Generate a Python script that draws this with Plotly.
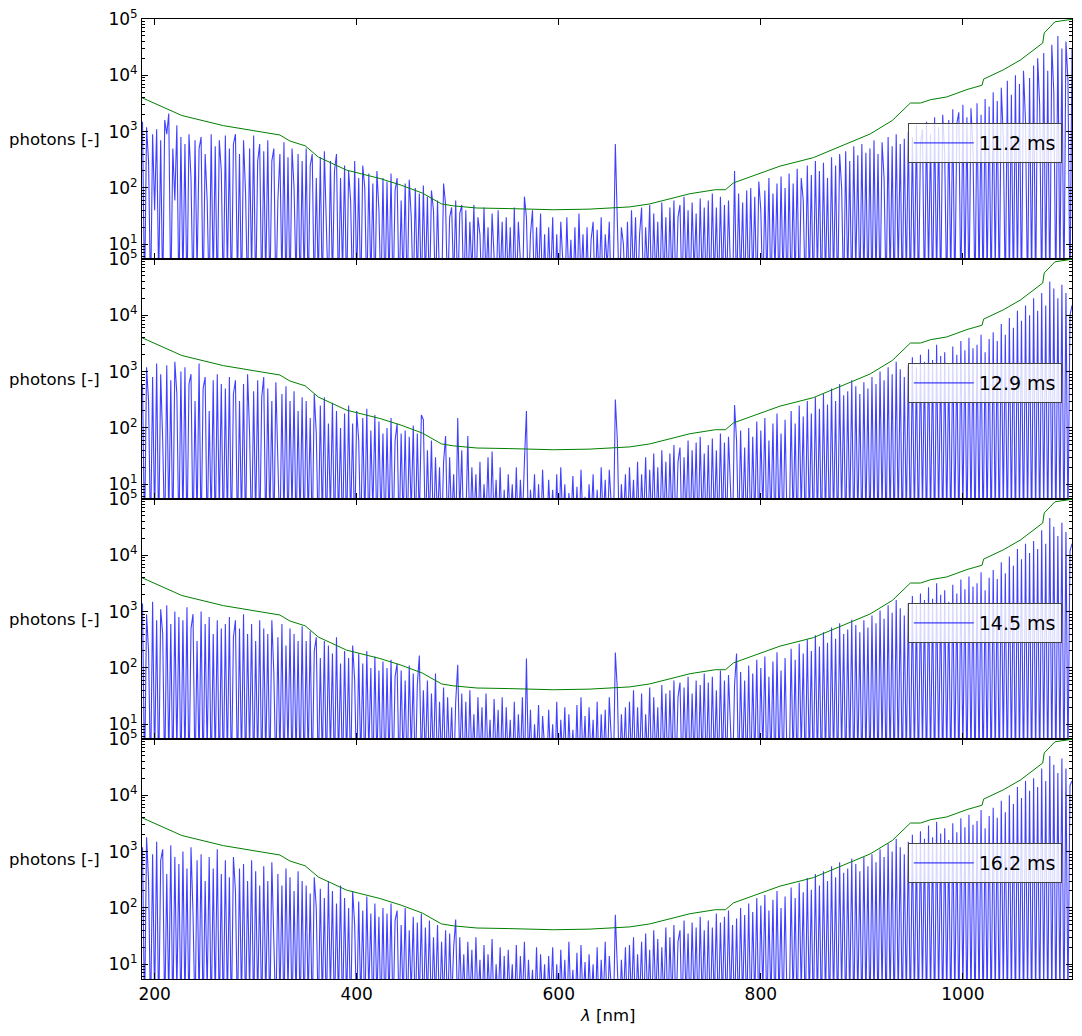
import plotly.graph_objects as go
from plotly.subplots import make_subplots

# ---------------- data ----------------
# wavelength grid: rows of 20 samples, 2 nm apart, each row starting at 188 + 40*r nm
LAMBDA_START = 188
LAMBDA_STEP = 2

exposure_labels = ["11.2 ms", "12.9 ms", "14.5 ms", "16.2 ms"]

photons_11_2 = [
    [1500, 1, 1200, 300, 1, 900, 40, 1100, 2, 700, 1, 1600, 900, 2100, 1, 500, 60, 1300, 1, 800],
    [2, 600, 1, 900, 150, 1, 700, 3, 500, 800, 1, 400, 60, 1, 900, 2, 550, 1, 700, 200],
    [1, 850, 3, 500, 1, 600, 900, 2, 400, 1, 700, 80, 1, 500, 3, 850, 1, 300, 600, 1],
    [450, 2, 700, 1, 300, 500, 1, 60, 400, 2, 650, 1, 350, 1, 500, 100, 2, 400, 1, 300],
    [2, 500, 1, 250, 400, 1, 150, 2, 350, 1, 450, 30, 1, 300, 2, 200, 400, 1, 150, 3],
    [250, 1, 200, 60, 1, 300, 2, 150, 1, 250, 100, 1, 180, 2, 120, 1, 200, 40, 1, 150],
    [1, 130, 2, 180, 1, 90, 150, 1, 60, 2, 120, 1, 140, 30, 1, 100, 2, 80, 1, 110],
    [2, 70, 1, 90, 40, 1, 60, 2, 1, 120, 50, 1, 30, 45, 2, 60, 1, 35, 50, 1],
    [40, 1, 25, 3, 50, 1, 30, 15, 1, 45, 2, 20, 1, 35, 8, 1, 40, 2, 25, 1],
    [30, 2, 20, 1, 45, 1, 25, 3, 1, 70, 30, 1, 15, 40, 1, 20, 2, 35, 1, 15],
    [1, 20, 2, 30, 1, 15, 1, 25, 8, 1, 30, 2, 12, 1, 20, 1, 35, 2, 15, 1],
    [20, 1, 12, 25, 1, 18, 2, 30, 1, 15, 4, 25, 1, 3, 600, 2, 1, 20, 10, 1],
    [25, 1, 40, 2, 30, 1, 15, 45, 1, 20, 3, 50, 1, 35, 2, 25, 1, 55, 2, 30],
    [1, 45, 2, 60, 1, 30, 50, 1, 70, 2, 40, 1, 55, 3, 35, 1, 65, 2, 45, 1],
    [60, 1, 80, 2, 45, 1, 70, 2, 50, 1, 60, 3, 1, 200, 1, 80, 2, 55, 1, 90],
    [1, 100, 2, 70, 1, 130, 40, 1, 90, 2, 150, 1, 80, 3, 120, 1, 160, 2, 100, 1],
    [180, 1, 120, 2, 220, 1, 150, 60, 1, 250, 2, 170, 1, 300, 3, 200, 1, 280, 2, 150],
    [1, 350, 2, 250, 1, 400, 100, 1, 450, 2, 300, 1, 550, 3, 380, 1, 600, 2, 420, 1],
    [500, 1, 700, 2, 400, 1, 650, 150, 1, 800, 2, 550, 1, 900, 3, 600, 1, 750, 2, 1000],
    [1, 800, 2, 1300, 1, 600, 1100, 1, 1500, 3, 900, 1, 1800, 2, 1200, 1, 2000, 400, 1, 1600],
    [2, 2500, 1, 1400, 2200, 1, 3000, 2, 1800, 1, 2600, 500, 1, 3200, 2, 2000, 1, 3800, 2, 2800],
    [1, 5000, 3, 3500, 1, 6000, 800, 1, 8000, 2, 4500, 1, 10000, 2, 7000, 1, 12000, 1500, 1, 9000],
    [2, 15000, 1, 20000, 3000, 1, 25000, 2, 12000, 1, 35000, 5000, 1, 50000, 2, 30000, 1, 40000, 8000, 1],
    [30000],
]

photons_12_9 = [
    [600, 1, 1200, 300, 1, 800, 2, 1400, 1, 900, 60, 1, 1300, 2, 700, 1, 1500, 400, 1, 1000],
    [2, 1200, 1, 600, 900, 1, 300, 2, 1400, 1, 500, 800, 1, 200, 2, 700, 1, 900, 3, 600],
    [1, 500, 2, 800, 1, 400, 700, 1, 300, 2, 600, 1, 900, 80, 1, 450, 2, 700, 1, 350],
    [800, 1, 500, 2, 300, 1, 650, 40, 1, 400, 2, 550, 1, 300, 3, 450, 1, 200, 2, 350],
    [1, 300, 2, 150, 1, 400, 80, 1, 250, 2, 350, 1, 120, 3, 280, 1, 200, 2, 100, 1],
    [180, 1, 250, 2, 120, 1, 200, 60, 1, 150, 2, 220, 1, 90, 3, 170, 1, 130, 2, 80],
    [1, 100, 2, 150, 1, 60, 120, 1, 80, 2, 90, 1, 70, 3, 110, 1, 80, 2, 170, 140],
    [1, 40, 2, 60, 1, 30, 2, 20, 1, 25, 72, 1, 30, 2, 15, 1, 150, 3, 40, 1],
    [2, 72, 1, 20, 2, 15, 1, 25, 1, 10, 2, 30, 1, 38, 2, 12, 1, 20, 1, 8],
    [1, 15, 2, 10, 1, 20, 1, 12, 2, 25, 200, 1, 8, 2, 15, 1, 10, 1, 18, 2],
    [1, 12, 2, 8, 1, 15, 1, 20, 2, 10, 1, 7, 2, 14, 1, 9, 1, 18, 2, 6],
    [1, 10, 2, 15, 1, 8, 1, 20, 2, 12, 1, 18, 2, 1, 320, 60, 1, 10, 2, 15],
    [1, 20, 2, 12, 1, 25, 1, 15, 2, 30, 1, 18, 2, 35, 1, 20, 1, 40, 2, 25],
    [1, 35, 2, 50, 1, 25, 45, 1, 30, 2, 60, 1, 40, 2, 55, 1, 70, 2, 35, 1],
    [50, 1, 65, 2, 40, 1, 80, 2, 55, 1, 70, 2, 1, 255, 60, 1, 90, 2, 45, 1],
    [100, 1, 70, 2, 130, 1, 90, 3, 150, 1, 60, 2, 120, 1, 180, 2, 80, 1, 140, 2],
    [1, 200, 2, 120, 1, 250, 3, 160, 1, 300, 2, 180, 1, 350, 2, 220, 1, 400, 2, 260],
    [1, 500, 2, 300, 1, 600, 3, 380, 1, 450, 2, 700, 1, 550, 2, 400, 1, 650, 2, 500],
    [1, 800, 2, 600, 1, 1000, 3, 700, 1, 1200, 2, 900, 1, 1500, 2, 1100, 1, 800, 2, 1300],
    [1, 1800, 2, 1200, 1, 2000, 3, 1500, 1, 2500, 2, 1600, 1, 3000, 2, 1900, 1, 2200, 2, 1400],
    [1, 2800, 2, 2000, 1, 3500, 3, 2400, 1, 4000, 2, 2600, 1, 3000, 2, 4500, 1, 2200, 2, 3800],
    [1, 5000, 2, 3500, 1, 7000, 3, 4500, 1, 9000, 2, 6000, 1, 12000, 2, 8000, 1, 15000, 2, 10000],
    [1, 20000, 2, 12000, 1, 25000, 3, 15000, 1, 40000, 2, 30000, 1, 20000, 2, 35000, 1, 25000, 2, 10000],
    [15000],
]

photons_14_5 = [
    [1400, 1, 900, 200, 1, 1500, 2, 700, 1, 1100, 400, 1, 1300, 2, 600, 1, 1000, 3, 800, 1],
    [700, 2, 1200, 1, 500, 900, 1, 300, 2, 1000, 1, 600, 3, 800, 1, 400, 2, 700, 1, 500],
    [1, 600, 2, 800, 1, 350, 700, 1, 500, 2, 900, 1, 400, 3, 600, 1, 300, 2, 700, 1],
    [500, 2, 400, 1, 700, 80, 1, 350, 2, 600, 1, 250, 3, 500, 1, 400, 2, 300, 1, 550],
    [1, 300, 2, 450, 1, 200, 350, 1, 150, 2, 300, 1, 250, 3, 180, 1, 350, 2, 120, 1],
    [200, 2, 150, 1, 250, 60, 1, 180, 2, 120, 1, 200, 3, 100, 1, 160, 2, 90, 1, 130],
    [1, 100, 2, 140, 1, 70, 120, 1, 90, 2, 60, 1, 110, 3, 80, 1, 50, 166, 2, 40],
    [2, 60, 1, 35, 2, 80, 1, 25, 2, 45, 1, 30, 2, 20, 1, 25, 114, 2, 35, 1],
    [25, 1, 40, 2, 15, 1, 30, 2, 20, 1, 35, 2, 12, 1, 28, 2, 18, 1, 30, 1],
    [20, 2, 12, 1, 25, 1, 15, 2, 30, 1, 147, 2, 18, 1, 10, 2, 22, 1, 14, 2],
    [1, 18, 2, 10, 1, 25, 1, 12, 2, 20, 1, 15, 2, 8, 1, 22, 1, 30, 2, 14],
    [1, 20, 2, 12, 1, 25, 1, 15, 2, 18, 1, 30, 2, 1, 187, 40, 1, 15, 2, 20],
    [1, 25, 2, 40, 1, 20, 2, 35, 1, 15, 2, 45, 1, 30, 2, 20, 1, 50, 2, 35],
    [1, 40, 2, 60, 1, 30, 55, 1, 45, 2, 70, 1, 35, 2, 60, 1, 50, 2, 80, 1],
    [55, 1, 70, 2, 40, 1, 90, 2, 60, 1, 75, 2, 1, 50, 180, 1, 85, 2, 60, 1],
    [110, 1, 80, 2, 140, 1, 100, 3, 160, 1, 70, 2, 130, 1, 190, 2, 90, 1, 150, 2],
    [1, 220, 2, 140, 1, 270, 3, 180, 1, 320, 2, 200, 1, 380, 2, 240, 1, 430, 2, 280],
    [1, 520, 2, 330, 1, 620, 3, 400, 1, 480, 2, 720, 1, 580, 2, 430, 1, 700, 2, 520],
    [1, 850, 2, 620, 1, 1050, 3, 750, 1, 1300, 2, 950, 1, 1600, 2, 1150, 1, 850, 2, 1400],
    [1, 1900, 2, 1300, 1, 2100, 3, 1600, 1, 2700, 2, 1700, 1, 3200, 2, 2000, 1, 2400, 2, 1500],
    [1, 3000, 2, 2100, 1, 3700, 3, 2500, 1, 4200, 2, 2800, 1, 3200, 2, 5000, 1, 2400, 2, 4000],
    [1, 5500, 2, 3800, 1, 7500, 3, 4800, 1, 9500, 2, 6500, 1, 13000, 2, 8500, 1, 16000, 2, 11000],
    [1, 18000, 2, 13000, 1, 28000, 3, 16000, 1, 46000, 2, 32000, 1, 22000, 2, 38000, 1, 26000, 2, 12000],
    [16000],
]

photons_16_2 = [
    [1200, 1, 1800, 300, 1, 900, 2, 1500, 1, 700, 1100, 1, 400, 2, 1300, 1, 800, 3, 600, 1],
    [1000, 2, 500, 1, 1200, 80, 1, 700, 2, 900, 1, 300, 3, 800, 1, 500, 2, 1100, 1, 400],
    [1, 700, 2, 350, 1, 800, 200, 1, 500, 2, 600, 1, 300, 3, 700, 1, 450, 2, 250, 1],
    [550, 2, 300, 1, 650, 60, 1, 400, 2, 250, 1, 500, 3, 350, 1, 200, 2, 450, 1, 300],
    [1, 250, 2, 180, 1, 350, 100, 1, 220, 2, 150, 1, 300, 3, 200, 1, 120, 2, 250, 1],
    [150, 2, 100, 1, 200, 50, 1, 130, 2, 90, 1, 160, 3, 80, 1, 120, 2, 70, 1, 100],
    [1, 80, 2, 120, 1, 60, 90, 1, 50, 2, 100, 1, 40, 3, 70, 1, 55, 2, 80, 1],
    [45, 2, 60, 1, 30, 2, 50, 1, 25, 2, 40, 1, 35, 2, 20, 62, 1, 30, 2, 15],
    [1, 25, 2, 18, 1, 30, 2, 12, 1, 22, 1, 15, 2, 28, 1, 10, 2, 20, 1, 14],
    [1, 18, 2, 10, 1, 22, 1, 14, 2, 25, 1, 12, 2, 8, 1, 20, 1, 15, 2, 10],
    [1, 14, 2, 20, 1, 10, 1, 18, 2, 12, 1, 25, 2, 8, 1, 16, 1, 22, 2, 11],
    [1, 15, 2, 10, 1, 20, 1, 12, 2, 25, 1, 14, 2, 1, 76, 18, 1, 12, 2, 20],
    [1, 22, 2, 30, 1, 15, 2, 25, 1, 35, 2, 18, 1, 40, 2, 28, 1, 20, 2, 45],
    [1, 30, 2, 50, 1, 25, 40, 1, 60, 2, 35, 1, 55, 2, 45, 1, 70, 2, 40, 1],
    [60, 1, 45, 2, 80, 1, 55, 2, 70, 1, 90, 2, 50, 1, 65, 1, 100, 2, 75, 1],
    [120, 1, 85, 2, 150, 1, 110, 3, 170, 1, 90, 2, 140, 1, 200, 2, 100, 1, 160, 2],
    [1, 230, 2, 150, 1, 280, 3, 190, 1, 340, 2, 210, 1, 400, 2, 250, 1, 450, 2, 300],
    [1, 550, 2, 350, 1, 650, 3, 420, 1, 500, 2, 750, 1, 600, 2, 450, 1, 800, 2, 550],
    [1, 900, 2, 650, 1, 1100, 3, 800, 1, 1400, 2, 1000, 1, 1700, 2, 1200, 1, 900, 2, 1500],
    [1, 2000, 2, 1400, 1, 2300, 3, 1700, 1, 2900, 2, 1800, 1, 3400, 2, 2100, 1, 2600, 2, 1600],
    [1, 3200, 2, 2200, 1, 3900, 3, 2700, 1, 4500, 2, 3000, 1, 3500, 2, 5500, 1, 2600, 2, 4300],
    [1, 6000, 2, 4000, 1, 8000, 3, 5000, 1, 10000, 2, 7000, 1, 14000, 2, 9000, 1, 18000, 2, 12000],
    [1, 20000, 2, 14000, 1, 30000, 3, 18000, 1, 50000, 2, 35000, 1, 25000, 2, 45000, 1, 30000, 2, 15000],
    [18000],
]

# saturation / threshold curve (green), same in every panel
limit_lambda = [187.5, 227, 268, 314.5, 324, 334, 344, 349, 362, 390, 423, 444, 465, 484, 496,
                519, 550, 595, 630, 651, 670, 690, 730, 755, 765, 773, 819, 852, 885, 908, 930,
                948, 958, 968, 984, 1004, 1019, 1020.5, 1040, 1057, 1079, 1080.5, 1091, 1106, 1108]
limit_photons = [4000, 1930, 1277, 945, 870, 680, 600, 560, 354, 207, 147, 112, 81, 52, 48,
                 44, 43, 41, 42, 44, 46, 52, 79, 93, 93, 123, 244, 345, 599, 905, 1570,
                 3220, 3220, 3690, 4130, 5580, 6670, 8550, 12500, 18750, 37400, 56500, 89000, 98000, 99000]

x_ticks = [200, 400, 600, 800, 1000]
y_ticks = [10, 100, 1000, 10000, 100000]
y_ticktext = ["10<sup>1</sup>", "10<sup>2</sup>", "10<sup>3</sup>", "10<sup>4</sup>", "10<sup>5</sup>"]
y_minor = [m * 10 ** e for e in range(0, 5) for m in range(2, 10)]

series = [photons_11_2, photons_12_9, photons_14_5, photons_16_2]


def unpack(rows):
    xs, ys = [], []
    for r, row in enumerate(rows):
        for k, v in enumerate(row):
            xs.append(LAMBDA_START + 20 * LAMBDA_STEP * r + LAMBDA_STEP * k)
            ys.append(v)
    return xs, ys


FONT = "DejaVu Sans"
# the html page adds an 8 px body margin, so the figure is made 8 px smaller
W, H = 1074, 1028
ML, MR, MT, MB = 134, 10, 11, 57
PANEL_H = 240

fig = make_subplots(rows=4, cols=1, shared_xaxes=True, vertical_spacing=0)

for i, (rows, lab) in enumerate(zip(series, exposure_labels)):
    xs, ys = unpack(rows)
    legname = "legend" if i == 0 else f"legend{i+1}"
    fig.add_trace(go.Scatter(x=xs, y=ys, mode="lines", name=lab,
                             line=dict(color="rgba(0,0,255,0.75)", width=1.1),
                             legend=legname, showlegend=True), row=i + 1, col=1)
    fig.add_trace(go.Scatter(x=limit_lambda, y=limit_photons, mode="lines",
                             line=dict(color="#008000", width=1), showlegend=False),
                  row=i + 1, col=1)

axis_common = dict(showline=True, linecolor="black", linewidth=1, mirror="ticks",
                   ticks="inside", tickcolor="black", ticklen=6, tickwidth=1,
                   showgrid=False, zeroline=False, automargin=False,
                   ticklabeloverflow="allow",
                   tickfont=dict(family=FONT, size=17, color="black"))

for i in range(4):
    fig.update_xaxes(range=[187.5, 1108], tickvals=x_ticks,
                     showticklabels=(i == 3), row=i + 1, col=1, **axis_common)
    fig.update_yaxes(type="log", range=[0.738, 5.0], tickvals=y_ticks, ticktext=y_ticktext,
                     minor=dict(tickvals=y_minor, ticks="inside", ticklen=3, tickcolor="black",
                                tickwidth=1, showgrid=False),
                     row=i + 1, col=1, **axis_common)

plot_h = H - MT - MB
annotations = []
legends = {}
for i in range(4):
    center = PANEL_H * i + PANEL_H / 2
    annotations.append(dict(text="photons [-]", xref="paper", yref="paper",
                            x=0, y=1 - center / plot_h, xanchor="right", yanchor="middle",
                            xshift=-40, showarrow=False,
                            font=dict(family=FONT, size=16.5, color="black")))
    legname = "legend" if i == 0 else f"legend{i+1}"
    legends[legname] = dict(x=0.989, xanchor="right",
                            y=1 - 104 / plot_h - 0.25 * i, yanchor="top",
                            itemwidth=60,
                            bgcolor="rgba(255,255,255,0.8)", bordercolor="#444", borderwidth=1,
                            font=dict(family=FONT, size=19, color="black"))

annotations.append(dict(text="<i>λ</i> [nm]", xref="paper", yref="paper", x=0.5, y=0,
                        xanchor="center", yanchor="middle", yshift=-36, showarrow=False,
                        font=dict(family=FONT, size=16.5, color="black")))

fig.update_layout(width=W, height=H, margin=dict(l=ML, r=MR, t=MT, b=MB, autoexpand=False),
                  paper_bgcolor="white", plot_bgcolor="white",
                  annotations=annotations, **legends)

fig.write_html("out.html")
